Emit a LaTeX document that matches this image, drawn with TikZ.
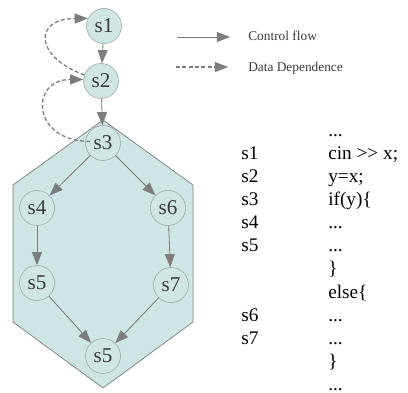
\documentclass[tikz,border=0pt]{standalone}
\usepackage{fontspec}
\setmainfont{Liberation Serif}
\usetikzlibrary{arrows.meta,positioning}

\definecolor{flowgray}{HTML}{7C7C7C}
\definecolor{nodeline}{HTML}{9AA6A6}
\definecolor{nodefill}{HTML}{CFE6E5}
\definecolor{regionfill}{HTML}{CDE5E4}
\definecolor{textgray}{HTML}{3A3A3A}

\begin{document}
\begin{tikzpicture}[
        stmt/.style={draw=nodeline, fill=nodefill, circle, minimum size=0.875cm, inner sep=0pt, text=textgray, font=\fontsize{15}{15}\selectfont},
        region/.style={draw=flowgray, fill=regionfill, line width=0.5pt},
        arrow/.style={-{Triangle[length=0.33cm, width=0.25cm]}, draw=flowgray, line width=0.6pt},
        dep/.style={arrow, dash pattern=on 2.8pt off 1.7pt, line width=0.9pt},
        legendtext/.style={anchor=west, inner sep=0pt, text=textgray, font=\fontsize{9.5}{11}\selectfont}
    ]
    \useasboundingbox (0,0) rectangle (10.2,-9.825);

    % --- Region of the if/else block ---
    \draw[region] (2.575,-3.0) -- (4.825,-4.625) -- (4.825,-8.05) -- (2.575,-9.7)
        -- (0.325,-8.05) -- (0.325,-4.625) -- cycle;

    % --- Statements ---
    \node[stmt] (s1) at (2.6,-0.65) {s1};
    \node[stmt] (s2) at (2.525,-2.025) {s2};
    \node[stmt] (s3) at (2.575,-3.575) {s3};
    \node[stmt] (s4) at (0.925,-5.2) {s4};
    \node[stmt] (s6) at (4.2,-5.2) {s6};
    \node[stmt] (s5a) at (0.925,-7.075) {s5};
    \node[stmt] (s7) at (4.275,-7.125) {s7};
    \node[stmt] (s5b) at (2.575,-8.9) {s5};

    % --- Control flow ---
    \draw[arrow] (s1) -- (s2);
    \draw[arrow] (s2) -- (s3);
    \draw[arrow] (s3) -- (s4);
    \draw[arrow] (s3) -- (s6);
    \draw[arrow] (s4) -- (s5a);
    \draw[arrow] (s6) -- (s7);
    \draw[arrow] (s5a) -- (s5b);
    \draw[arrow] (s7) -- (s5b);

    % --- Data dependence ---
    \draw[dep] (s2.160) to[out=160, in=180, distance=1.35cm] (s1.155);
    \draw[dep, shorten <=-3.5pt] (s3.175) to[out=180, in=180, distance=1.35cm] (s2.175);

    % --- Legend ---
    \coordinate (cfstart) at (4.425,-0.925);
    \coordinate (cfend) at (5.75,-0.925);
    \coordinate (ddstart) at (4.4,-1.675);
    \coordinate (ddend) at (5.7,-1.675);
    \draw[arrow] (cfstart) -- (cfend);
    \draw[dep] (ddstart) -- (ddend);
    \node[legendtext] (cflabel) at (6.2,-0.9) {Control flow};
    \node[legendtext] (ddlabel) at (6.2,-1.7) {Data Dependence};

    % --- Source lines ---
    \node[anchor=north west, inner sep=0pt, font=\fontsize{13.7}{16.4}\selectfont] (codelines) at (6.025,-3.005) {%
        \begin{tabular}{@{}p{2.175cm}@{}l@{}}
              & ...\\
            s1 & cin >{}> x;\\
            s2 & y=x;\\
            s3 & if(y)\{\\
            s4 & ...\\
            s5 & ...\\
               & \}\\
               & else\{\\
            s6 & ...\\
            s7 & ...\\
               & \}\\
               & ...
        \end{tabular}};

\end{tikzpicture}
\end{document}
